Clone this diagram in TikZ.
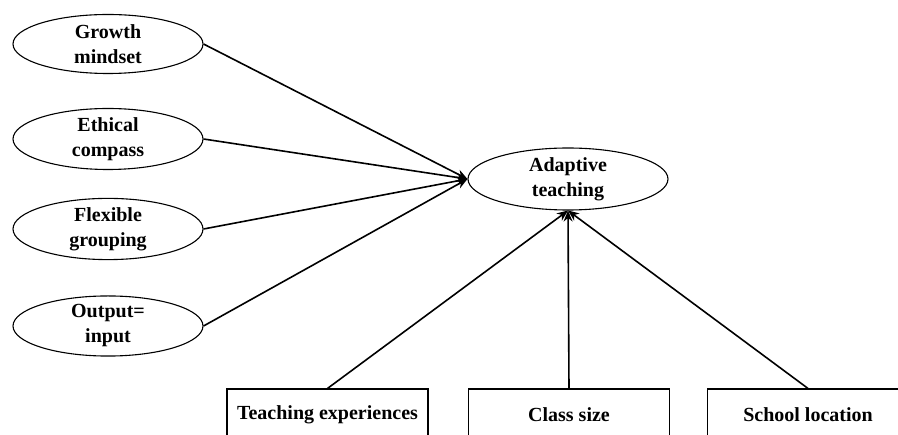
\documentclass[tikz,border=0pt]{standalone}
\usepackage{fontspec}
\setmainfont{Liberation Serif}
\usetikzlibrary{shapes.geometric,arrows.meta}
\begin{document}
\begin{tikzpicture}[x=1pt,y=-1pt,
  ell/.style={draw,line width=1.1pt,ellipse,inner sep=0pt,minimum width=190pt,minimum height=59pt,align=center,font=\fontsize{20}{25}\selectfont\bfseries},
  box/.style={draw,line width=1.1pt,rectangle,inner sep=0pt,minimum width=201pt,minimum height=52pt,font=\fontsize{20}{25}\selectfont\bfseries},
  conn/.style={line width=1.6pt,-{Stealth[length=11pt,width=9pt]}}]
\useasboundingbox (0,0) rectangle (898,435);
\clip (0,0) rectangle (898,435);
\node[ell] (g) at (108,44) {Growth\\mindset};
\node[ell] (e) at (108,139) {Ethical\\compass};
\node[ell] (f) at (108,229) {Flexible\\grouping};
\node[ell] (o) at (108,326) {Output=\\input};
\node[ell,minimum width=200pt,minimum height=62pt] (a) at (568,179) {Adaptive\\teaching};
\node[box] (t) at (327.5,415) {Teaching experiences};
\node[box] (c) at (569,415) {Class size};
\node[box] (s) at (808,415) {School location};
\draw[conn] (g.east) -- (a.west);
\draw[conn] (e.east) -- (a.west);
\draw[conn] (f.east) -- (a.west);
\draw[conn] (o.east) -- (a.west);
\draw[conn] (t.north) -- (a.south);
\draw[conn] (c.north) -- (a.south);
\draw[conn] (s.north) -- (a.south);
\end{tikzpicture}
\end{document}
